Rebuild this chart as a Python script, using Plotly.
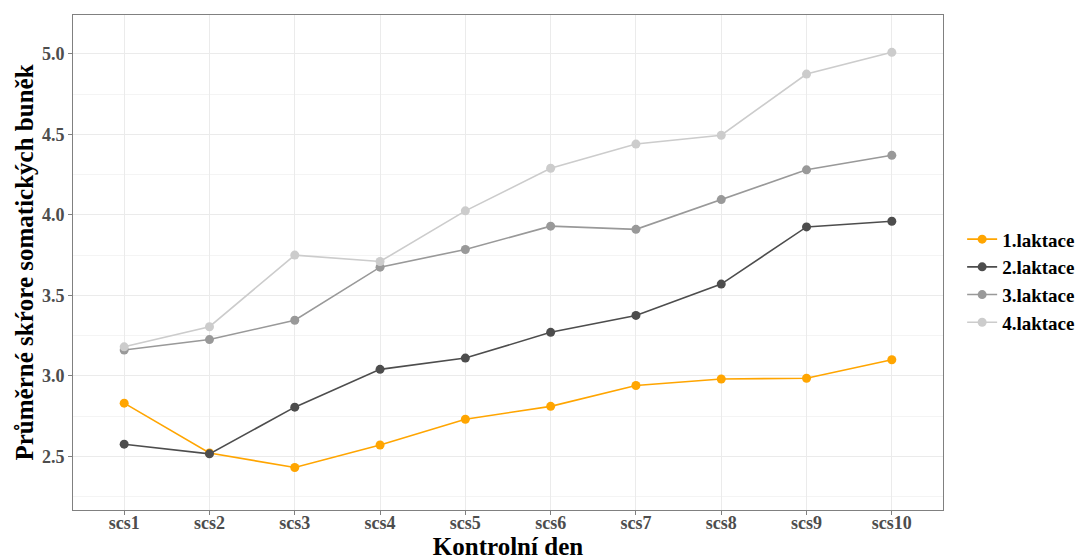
import plotly.graph_objects as go

categories = ["scs1", "scs2", "scs3", "scs4", "scs5", "scs6", "scs7", "scs8", "scs9", "scs10"]
laktace1 = [2.83, 2.52, 2.43, 2.57, 2.73, 2.81, 2.94, 2.98, 2.985, 3.10]
laktace2 = [2.575, 2.515, 2.805, 3.04, 3.11, 3.27, 3.375, 3.57, 3.925, 3.96]
laktace3 = [3.16, 3.225, 3.345, 3.675, 3.785, 3.93, 3.91, 4.095, 4.28, 4.37]
laktace4 = [3.18, 3.305, 3.75, 3.71, 4.025, 4.29, 4.44, 4.495, 4.875, 5.01]
series_names = ["1.laktace", "2.laktace", "3.laktace", "4.laktace"]
colors = ["#FFA500", "#4D4D4D", "#999999", "#CCCCCC"]

fig = go.Figure()
for name, vals, col in zip(series_names, [laktace1, laktace2, laktace3, laktace4], colors):
    fig.add_trace(go.Scatter(
        x=categories, y=vals, name=name, mode="lines+markers",
        line=dict(color=col, width=1.6),
        marker=dict(color=col, size=9),
    ))

font_family = "Liberation Serif"
fig.update_layout(
    width=1076, height=552,
    margin=dict(l=65, r=141, t=7, b=50, autoexpand=False),
    paper_bgcolor="white", plot_bgcolor="white",
    font=dict(family=font_family),
    legend=dict(
        x=1.022, y=0.463, xanchor="left", yanchor="middle",
        font=dict(family=font_family, size=19, color="black", weight="bold"),
        tracegroupgap=0, itemwidth=30,
    ),
    showlegend=True,
)
fig.update_xaxes(
    type="category", range=[-0.6, 9.6], automargin=False,
    showgrid=True, gridcolor="#EBEBEB", gridwidth=1,
    showline=True, linecolor="#808080", linewidth=1, mirror=True,
    ticks="outside", ticklen=4, tickcolor="#808080",
    ticklabelstandoff=-8,
    tickfont=dict(family=font_family, size=18, color="#4D4D4D", weight="bold"),
    title=dict(text="Kontrolní den", font=dict(family=font_family, size=25, color="black", weight="bold"), standoff=10),
    zeroline=False,
)
fig.update_yaxes(
    range=[2.166, 5.242], automargin=False,
    tickvals=[2.5, 3.0, 3.5, 4.0, 4.5, 5.0],
    ticktext=["2.5", "3.0", "3.5", "4.0", "4.5", "5.0"],
    showgrid=True, gridcolor="#EBEBEB", gridwidth=1,
    minor=dict(tickvals=[2.25, 2.75, 3.25, 3.75, 4.25, 4.75, 5.25], showgrid=True, gridcolor="#F4F4F4", gridwidth=0.7),
    showline=True, linecolor="#808080", linewidth=1, mirror=True,
    ticks="outside", ticklen=4, tickcolor="#808080",
    tickfont=dict(family=font_family, size=18, color="#4D4D4D", weight="bold"),
    title=dict(text="Průměrné skŕore somatických buněk", font=dict(family=font_family, size=25, color="black", weight="bold"), standoff=1),
    zeroline=False,
)

fig.write_html("out.html")
